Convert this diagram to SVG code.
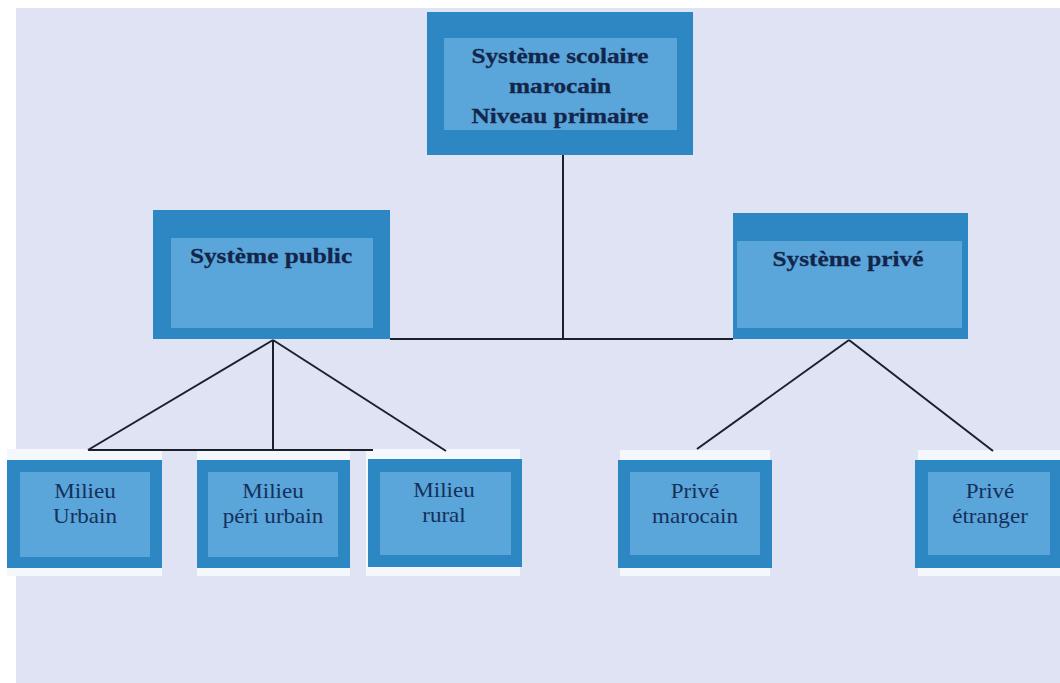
<svg xmlns="http://www.w3.org/2000/svg" width="1060" height="683" viewBox="0 0 1060 683">
<style>
.outer{fill:#2d87c3}
.inner{fill:#5aa5da}
.halo{fill:#f4f7fc}
.tb{font-family:"Liberation Serif","Times New Roman",serif;font-weight:bold;font-size:22px;fill:#13264a;text-anchor:middle;stroke:#13264a;stroke-width:0.3}
.tr{font-family:"Liberation Serif","Times New Roman",serif;font-size:21px;fill:#15305a;text-anchor:middle}
.ln{stroke:#1c1f2c;stroke-width:2;fill:none}
</style>
<rect x="0" y="0" width="1060" height="683" fill="#ffffff"/>
<rect x="16" y="8" width="1044" height="675" fill="#dfe3f4"/>
<g id="n-top">
<rect class="outer" x="427" y="12" width="266" height="143"/>
<rect class="inner" x="444" y="38" width="233" height="92"/>
<g transform="translate(560,0) scale(1.15,1)">
<text class="tb" x="0" y="63">Système scolaire</text>
<text class="tb" x="0" y="93">marocain</text>
<text class="tb" x="0" y="123">Niveau primaire</text>
</g>
</g>
<g id="n-public">
<rect class="outer" x="153" y="210" width="237" height="129"/>
<rect class="inner" x="171" y="238" width="202" height="90"/>
<g transform="translate(271,0) scale(1.15,1)"><text class="tb" x="0" y="263">Système public</text></g>
</g>
<g id="n-prive">
<rect class="outer" x="733" y="213" width="235" height="126"/>
<rect class="inner" x="737" y="241" width="225" height="87"/>
<g transform="translate(848,0) scale(1.15,1)"><text class="tb" x="0" y="266">Système privé</text></g>
</g>
<g id="n-urbain">
<rect class="halo" x="7" y="449" width="155" height="127"/>
<rect class="outer" x="7" y="460" width="155" height="108"/>
<rect class="inner" x="20" y="472" width="130" height="85"/>
<g transform="translate(85,0) scale(1.1,1)"><text class="tr" x="0" y="498">Milieu</text><text class="tr" x="0" y="523">Urbain</text></g>
</g>
<g id="n-peri">
<rect class="halo" x="197" y="449" width="153" height="127"/>
<rect class="outer" x="197" y="460" width="153" height="108"/>
<rect class="inner" x="208" y="472" width="130" height="85"/>
<g transform="translate(273,0) scale(1.1,1)"><text class="tr" x="0" y="498">Milieu</text><text class="tr" x="0" y="523">péri urbain</text></g>
</g>
<g id="n-rural">
<rect class="halo" x="366" y="449" width="154" height="127"/>
<rect class="outer" x="368" y="459" width="154" height="108"/>
<rect class="inner" x="380" y="472" width="131" height="83"/>
<g transform="translate(444,0) scale(1.1,1)"><text class="tr" x="0" y="497">Milieu</text><text class="tr" x="0" y="522">rural</text></g>
</g>
<g id="n-marocain">
<rect class="halo" x="620" y="450" width="150" height="126"/>
<rect class="outer" x="618" y="460" width="154" height="108"/>
<rect class="inner" x="630" y="472" width="130" height="83"/>
<g transform="translate(695,0) scale(1.1,1)"><text class="tr" x="0" y="498">Privé</text><text class="tr" x="0" y="523">marocain</text></g>
</g>
<g id="n-etranger">
<rect class="halo" x="918" y="450" width="142" height="126"/>
<rect class="outer" x="915" y="460" width="145" height="108"/>
<rect class="inner" x="928" y="472" width="122" height="83"/>
<g transform="translate(990,0) scale(1.1,1)"><text class="tr" x="0" y="498">Privé</text><text class="tr" x="0" y="523">étranger</text></g>
</g>
<g id="connectors">
<line class="ln" x1="563" y1="155" x2="563" y2="339"/>
<line class="ln" x1="390" y1="339" x2="733" y2="339"/>
<line class="ln" x1="273" y1="340" x2="88" y2="450"/>
<line class="ln" x1="273" y1="340" x2="273" y2="449"/>
<line class="ln" x1="273" y1="340" x2="446" y2="451"/>
<line class="ln" x1="88" y1="450" x2="373" y2="450" stroke-width="1.5"/>
<line class="ln" x1="849" y1="340" x2="697" y2="449"/>
<line class="ln" x1="849" y1="340" x2="993" y2="451"/>
</g>
</svg>
